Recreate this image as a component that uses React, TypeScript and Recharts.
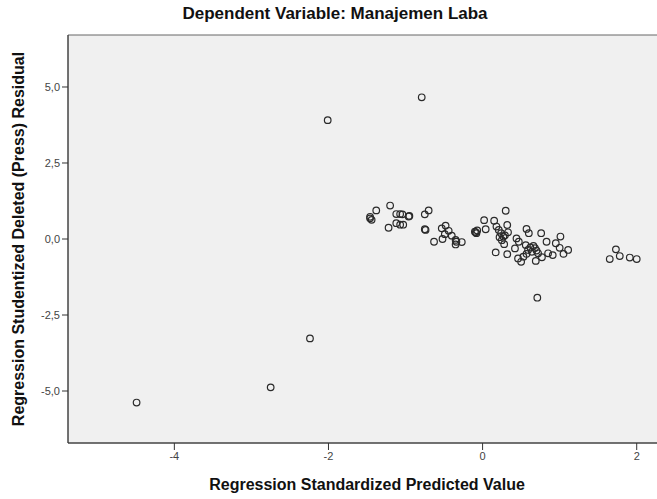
import { ReferenceArea, Scatter, ScatterChart, XAxis, YAxis } from "recharts";

// Regression Standardized Predicted Value
const predictedValues = [
  -4.49, -2.75, -2.24, -2.01, -0.79, 0.71,
  -1.46, -1.44, -1.46, -1.38, -1.2, -1.12, -1.07, -1.04, -0.95, -1.22, -1.12, -1.07, -1.03, -0.96,
  -0.75, -0.7, -0.75, -0.74, -0.53, -0.48, -0.44, -0.52, -0.63, -0.4, -0.49, -0.34, -0.35, -0.27, -0.35,
  -0.1, -0.08, -0.09, -0.07, 0.02, 0.04, 0.15, 0.18, 0.21, 0.24, 0.27, 0.3, 0.32, 0.33, 0.28, 0.17, 0.32, 0.22, 0.25, 0.29,
  0.44, 0.47, 0.57, 0.6, 0.56, 0.59, 0.66, 0.7, 0.72, 0.42, 0.46, 0.5, 0.57, 0.69, 0.77, 0.76, 0.62, 0.68, 0.64, 0.53,
  0.83, 0.85, 0.91, 0.95, 1.01, 1.0, 1.05, 1.11,
  1.65, 1.73, 1.78, 1.91, 2.0,
];

// Regression Studentized Deleted (Press) Residual
const residualValues = [
  -5.38, -4.88, -3.27, 3.91, 4.66, -1.93,
  0.73, 0.63, 0.68, 0.94, 1.1, 0.82, 0.82, 0.81, 0.76, 0.37, 0.52, 0.47, 0.47, 0.74,
  0.81, 0.94, 0.32, 0.3, 0.35, 0.44, 0.27, 0.0, -0.09, 0.11, 0.16, -0.09, -0.18, -0.1, -0.03,
  0.24, 0.19, 0.22, 0.28, 0.62, 0.32, 0.6, 0.41, 0.3, 0.19, 0.08, 0.93, 0.46, 0.22, -0.17, -0.44, -0.5, 0.06, -0.04, 0.12,
  0.02, -0.09, 0.33, 0.19, -0.2, -0.36, -0.23, -0.38, -0.47, -0.31, -0.64, -0.75, -0.49, -0.72, -0.6, 0.19, -0.28, -0.3, -0.42, -0.58,
  -0.09, -0.47, -0.53, -0.14, 0.08, -0.29, -0.49, -0.36,
  -0.66, -0.34, -0.56, -0.61, -0.66,
];

const xTicks = [-4, -2, 0, 2];
const yTicks = [-5, -2.5, 0, 2.5, 5];

const points = predictedValues.map((x, i) => ({ x, y: residualValues[i] }));

const X_MIN = -5.38;
const X_MAX = 2.38;
const Y_MIN = -6.71;
const Y_MAX = 6.71;

const FONT = "'Liberation Sans', Arial, sans-serif";
const tickStyle = { fontFamily: FONT, fontSize: 11, fill: "#444" };
const axisTitleStyle = { fontFamily: FONT, fontSize: 16, fontWeight: "bold", fill: "#111" };

const Ring = (props: any) => (
  <circle cx={props.cx} cy={props.cy} r={3.3} fill="none" stroke="#2a2a2a" strokeWidth={1.2} />
);

export default function App() {
  return (
    <div
      style={{
        position: "fixed",
        left: 0,
        top: 0,
        width: 657,
        height: 499,
        overflow: "hidden",
        background: "#fff",
        fontFamily: FONT,
      }}
    >
      <div
        style={{
          position: "absolute",
          left: 0,
          width: 670,
          top: 4,
          textAlign: "center",
          fontSize: 17,
          fontWeight: "bold",
          color: "#111",
        }}
      >
        Dependent Variable: Manajemen Laba
      </div>
      <ScatterChart width={676} height={499} margin={{ top: 35, right: 10, bottom: 0, left: 0 }}>
        <ReferenceArea
          x1={X_MIN}
          x2={X_MAX}
          y1={Y_MIN}
          y2={Y_MAX}
          fill="#f0f0f0"
          fillOpacity={1}
          stroke="#666"
          strokeWidth={1}
        />
        <XAxis
          type="number"
          dataKey="x"
          domain={[X_MIN, X_MAX]}
          ticks={xTicks}
          allowDataOverflow
          height={56}
          tickSize={7}
          tickMargin={2}
          tick={tickStyle}
          stroke="#333"
          tickFormatter={(v: number) => String(v)}
          label={{
            value: "Regression Standardized Predicted Value",
            position: "insideBottom",
            offset: 9,
            style: axisTitleStyle,
          }}
        />
        <YAxis
          type="number"
          dataKey="y"
          domain={[Y_MIN, Y_MAX]}
          ticks={yTicks}
          allowDataOverflow
          width={68}
          tickSize={6}
          tickMargin={2}
          tick={tickStyle}
          stroke="#333"
          tickFormatter={(v: number) => v.toFixed(1).replace(".", ",")}
          label={{
            value: "Regression Studentized Deleted (Press) Residual",
            angle: -90,
            position: "insideLeft",
            offset: 18,
            style: { ...axisTitleStyle, textAnchor: "middle" },
          }}
        />
        <Scatter data={points} shape={Ring} isAnimationActive={false} />
      </ScatterChart>
    </div>
  );
}
